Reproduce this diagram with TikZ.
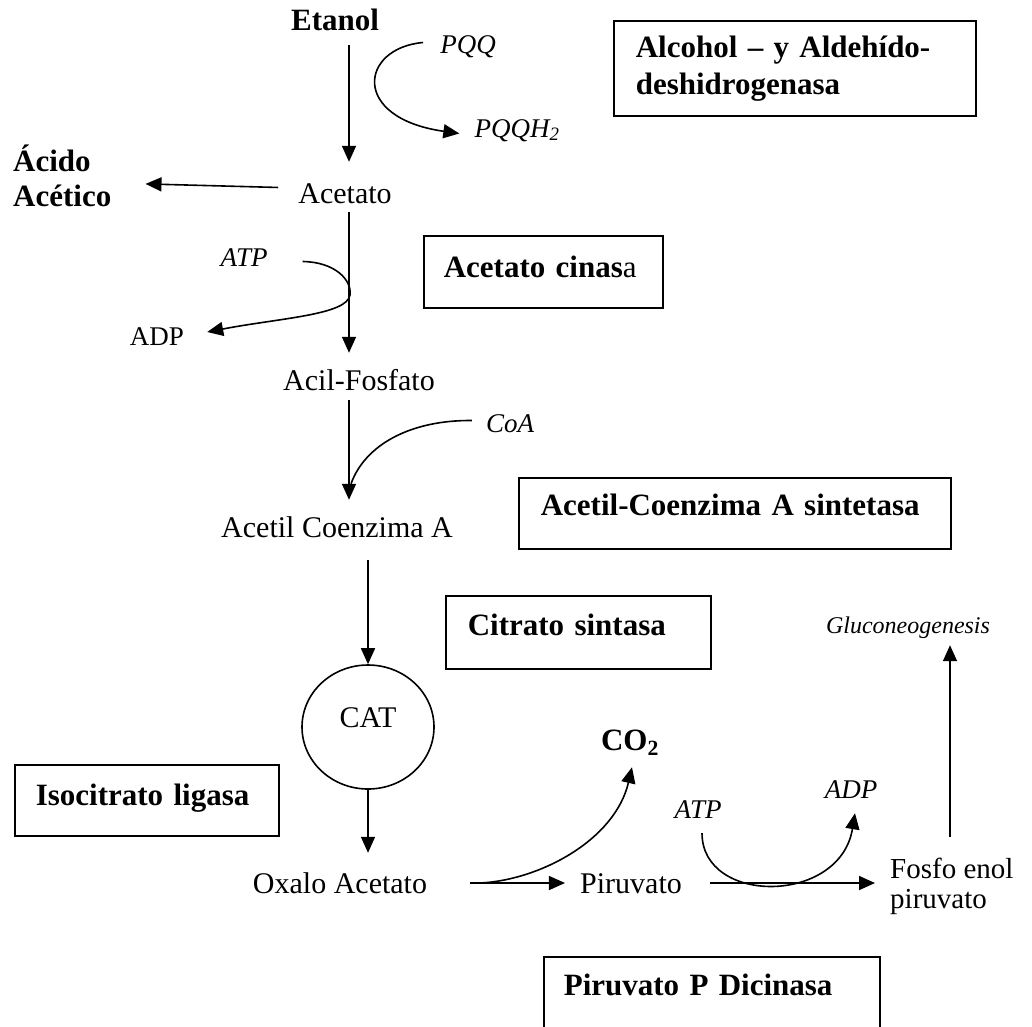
\documentclass[tikz,border=0pt]{standalone}
\usepackage{fontspec}
\setmainfont{Liberation Serif}
\usetikzlibrary{arrows.meta,shapes.geometric,calc}
\begin{document}
\begin{tikzpicture}[x=1pt,y=-1pt,
  tip/.style={-{Triangle[length=16pt,width=14pt]}},
  arr/.style={line width=1.6pt,tip},
  crv/.style={line width=1.6pt},
  reg/.style={font=\fontsize{30}{34}\selectfont,inner sep=0pt,anchor=base,text height=20pt,text depth=7pt},
  ital/.style={font=\itshape\fontsize{27}{30}\selectfont,inner sep=0pt,anchor=base,text height=18pt,text depth=5pt},
  bld/.style={font=\bfseries\fontsize{31}{35}\selectfont,inner sep=0pt,anchor=base,text height=21pt,text depth=7pt},
  boxn/.style={draw,line width=1.6pt,font=\bfseries\fontsize{31}{37}\selectfont,anchor=north west,align=left,inner ysep=0pt}
]
\useasboundingbox (0,0) rectangle (1032,1026);
\clip (0,0) rectangle (1032,1026);

% column coordinates
\coordinate (c1) at (349,0);
\coordinate (c3) at (950,0);

% text nodes
\node[bld] (etanol) at (335,30) {Etanol};
\node[ital] (pqq) at (468,53) {PQQ};
\node[ital] (pqqh) at (517,137) {PQQH\textsubscript{2}};
\node[reg] (acetato) at (345,203) {Acetato};
\node[font=\bfseries\fontsize{31}{35}\selectfont,inner sep=0pt,anchor=north west,align=left] (acido) at (13,145) {Ácido\\Acético};
\node[ital] (atp1) at (244,266) {ATP};
\node[reg,font=\fontsize{27}{30}\selectfont] (adp1) at (157,345) {ADP};
\node[reg] (acilf) at (359,390) {Acil-Fosfato};
\node[ital] (coa) at (510,432) {CoA};
\node[reg] (acetilcoa) at (337,537) {Acetil Coenzima A};
\node[draw,ellipse,line width=1.6pt,minimum width=132pt,minimum height=124pt,inner sep=0pt,
      font=\fontsize{30}{34}\selectfont,text height=20pt,text depth=20pt] (cat) at (368,727) {CAT};
\node[bld] (co2) at (630,750) {CO\textsubscript{2}};
\node[ital] (atp2) at (698,818) {ATP};
\node[ital] (adp2) at (851,798) {ADP};
\node[reg] (oxalo) at (340,893) {Oxalo Acetato};
\node[reg] (piru) at (631,893) {Piruvato};
\node[font=\fontsize{29}{30}\selectfont,inner sep=0pt,anchor=north west,align=left] (fosfo) at (890,858) {Fosfo enol\\piruvato};
\node[ital,font=\itshape\fontsize{24}{28}\selectfont] (gluco) at (908,633) {Gluconeogenesis};

% enzyme boxes
\node[boxn,minimum width=362pt,minimum height=95pt,text width=318pt,inner xsep=22pt] (alc) at (613,20)
  {Alcohol – y Aldehído-\\deshidrogenasa};
\node[boxn,text width=199pt,inner xsep=20pt,text height=42pt,text depth=30pt] (acc) at (423,235)
  {Acetato cinas{\mdseries a}};
\node[boxn,text width=388pt,inner xsep=22pt,text height=38pt,text depth=33pt] (acs) at (518,477)
  {Acetil-Coenzima A sintetasa};
\node[boxn,text width=221pt,inner xsep=22pt,text height=40pt,text depth=33pt] (cs) at (445,595)
  {Citrato sintasa};
\node[boxn,text width=222pt,inner xsep=21pt,text height=41pt,text depth=30pt] (il) at (14,764)
  {Isocitrato ligasa};
\node[boxn,text width=296pt,inner xsep=20pt,text height=39pt,text depth=60pt] (ppd) at (543,956)
  {Piruvato P Dicinasa};

% main pathway
\draw[arr,shorten <=8pt,shorten >=21pt] (etanol.south -| c1) -- (acetato.north -| c1);
\draw[crv,tip] ($(pqq.west)+(-17,-4)$) .. controls (360,48) and (350,118) .. ($(pqqh.west)+(-15,3)$);
\draw[arr,shorten <=20pt,shorten >=34pt] (acetato.west |- 0,188) -- (acido.east |- 0,183);
\draw[arr,shorten <=2pt,shorten >=17pt] (acetato.south -| c1) -- (acilf.north -| c1);
\draw[crv,tip] ($(atp1.east)+(35,2)$) .. controls (335,262) and (352,280) .. (350,295)
   .. controls (347,315) and (280,318) .. ($(adp1.east)+(23,-6.5)$);
\draw[arr,shorten <=3pt,shorten >=17pt] (acilf.south -| c1) -- (acetilcoa.north -| c1);
\draw[crv] ($(coa.west)+(-14,-5)$) .. controls (410,420) and (365,445) .. ($(acetilcoa.north -| c1)+(2,-33)$);
\draw[arr,shorten <=16pt] (acetilcoa.south -| cat.north) -- (cat.north);
\draw[arr,shorten >=20pt] (cat.south) -- (oxalo.north -| cat.south);
\draw[arr,shorten <=43pt,shorten >=15pt] (oxalo.east |- 0,883) -- (piru.west |- 0,883);
\draw[crv,tip] ($(oxalo.east |- 0,883)+(53,0)$) .. controls (540,880) and (615,840) .. ($(co2.south)+(2,10)$);
\draw[arr,shorten <=28pt,shorten >=15pt] (piru.east |- 0,883) -- (fosfo.west |- 0,883);
\draw[crv,tip] ($(atp2.south)+(4,10)$) .. controls (702,905) and (840,905) .. ($(adp2.south)+(4,10)$);
\draw[arr,shorten <=21pt,shorten >=7pt] (fosfo.north -| c3) -- (gluco.south -| c3);
\end{tikzpicture}
\end{document}
